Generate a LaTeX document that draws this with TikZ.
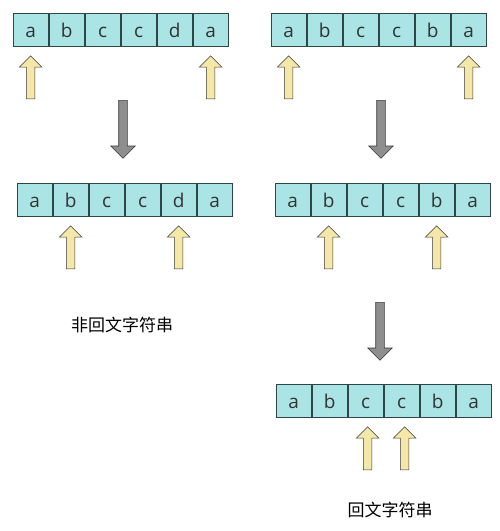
\documentclass[tikz,border=0pt]{standalone}
\usepackage{fontspec}
\setmainfont{Open Sans}
\newfontfamily\zhfont{Noto Sans CJK SC}
\usepackage{tikz}
\usetikzlibrary{arrows,shapes,positioning,calc}

\definecolor{cellcyan}{HTML}{AAE4E4}
\definecolor{celledge}{HTML}{2E4646}
\definecolor{ptryellow}{HTML}{F4E7A8}
\definecolor{arredge}{HTML}{3A3A3A}
\definecolor{stepgray}{HTML}{8E8E8E}
\definecolor{txtgray}{HTML}{333333}

\begin{document}
\begin{tikzpicture}[x=1pt,y=-1pt,node distance=0pt,
                    font=\fontsize{19}{22}\selectfont]
  \tikzstyle{cell}=[draw=celledge,fill=cellcyan,line width=0.8pt,text=txtgray,
                    minimum width=35.2pt,minimum height=33pt,inner sep=0pt,
                    text height=15.6pt,text depth=0pt]
  \tikzstyle{ptr}=[single arrow,draw=arredge,fill=ptryellow,line width=0.6pt,
                   rotate=90,minimum height=43pt,inner sep=4pt,
                   single arrow head extend=7pt,anchor=tip]
  \tikzstyle{next}=[single arrow,draw=arredge,fill=stepgray,line width=0.6pt,
                    rotate=-90,minimum height=58pt,inner sep=4pt,
                    single arrow head extend=8pt,anchor=tail]
  \useasboundingbox (0,0) rectangle (500,531);

  % abccda, first step
  \node[cell] (A1) at (30.6,29.5) {a};
  \node[cell] (A2) [right=of A1] {b};
  \node[cell] (A3) [right=of A2] {c};
  \node[cell] (A4) [right=of A3] {c};
  \node[cell] (A5) [right=of A4] {d};
  \node[cell] (A6) [right=of A5] {a};
  \node[ptr] (pA1) at ($(A1.south)+(0,9)$) {};
  \node[ptr] (pA6) at ($(A6.south)+(0,9)$) {};
  \node[next] (sA) at (123,100) {};

  % abccda, second step
  \node[cell] (C1) at (34.6,199.5) {a};
  \node[cell] (C2) [right=of C1] {b};
  \node[cell] (C3) [right=of C2] {c};
  \node[cell] (C4) [right=of C3] {c};
  \node[cell] (C5) [right=of C4] {d};
  \node[cell] (C6) [right=of C5] {a};
  \node[ptr] (pC2) at ($(C2.south)+(0,9)$) {};
  \node[ptr] (pC5) at ($(C5.south)+(0,9)$) {};

  \node (nonpal) at (122,325) {\zhfont\fontsize{17}{20}\selectfont 非回文字符串};

  % abccba, first step
  \node[cell] (B1) at (288.6,29.5) {a};
  \node[cell] (B2) [right=of B1] {b};
  \node[cell] (B3) [right=of B2] {c};
  \node[cell] (B4) [right=of B3] {c};
  \node[cell] (B5) [right=of B4] {b};
  \node[cell] (B6) [right=of B5] {a};
  \node[ptr] (pB1) at ($(B1.south)+(0,9)$) {};
  \node[ptr] (pB6) at ($(B6.south)+(0,9)$) {};
  \node[next] (sB) at (381,100) {};

  % abccba, second step
  \node[cell] (D1) at (292.6,199.5) {a};
  \node[cell] (D2) [right=of D1] {b};
  \node[cell] (D3) [right=of D2] {c};
  \node[cell] (D4) [right=of D3] {c};
  \node[cell] (D5) [right=of D4] {b};
  \node[cell] (D6) [right=of D5] {a};
  \node[ptr] (pD2) at ($(D2.south)+(0,9)$) {};
  \node[ptr] (pD5) at ($(D5.south)+(0,9)$) {};
  \node[next] (sD) at (380,302) {};

  % abccba, third step
  \node[cell] (E1) at (293.6,400.5) {a};
  \node[cell] (E2) [right=of E1] {b};
  \node[cell] (E3) [right=of E2] {c};
  \node[cell] (E4) [right=of E3] {c};
  \node[cell] (E5) [right=of E4] {b};
  \node[cell] (E6) [right=of E5] {a};
  \node[ptr] (pE3) at ($(E3.south)+(2,9)$) {};
  \node[ptr] (pE4) at ($(E4.south)+(3,9)$) {};

  \node (pal) at (390,510) {\zhfont\fontsize{17}{20}\selectfont 回文字符串};
\end{tikzpicture}
\end{document}
